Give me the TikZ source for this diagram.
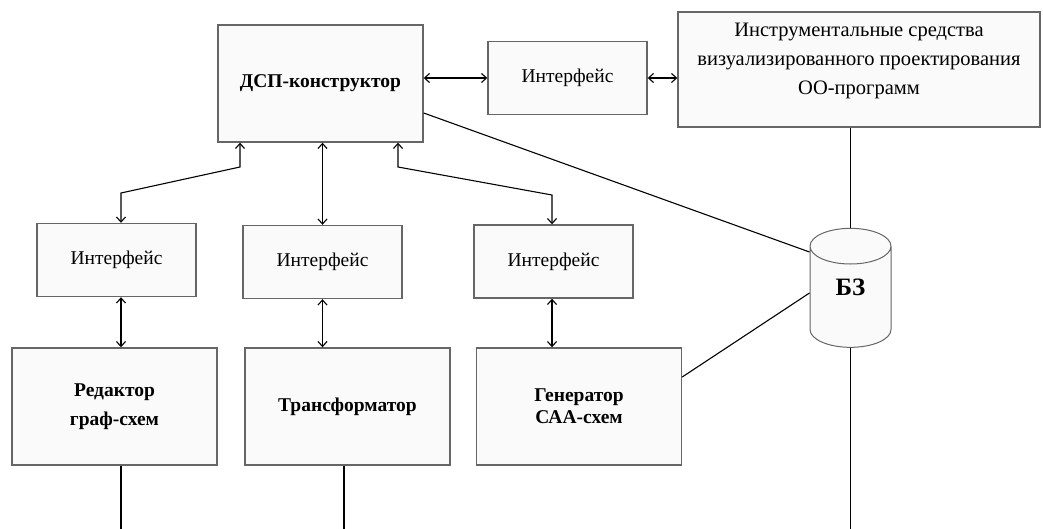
\documentclass[tikz,border=0pt]{standalone}
\usepackage{fontspec}
\setmainfont{Liberation Serif}
\usetikzlibrary{shapes.geometric,arrows.meta}

\begin{document}
\begin{tikzpicture}[x=1pt,y=-1pt,
  box/.style={draw=black!60,line width=1.4pt,fill=black!2,inner sep=0pt,align=center,font=\fontsize{19.5}{29}\selectfont},
  unit/.style={box,minimum width=205pt,minimum height=117pt,font=\fontsize{19.5}{29}\selectfont\bfseries},
  iface/.style={box,minimum width=159pt,minimum height=73pt},
  link/.style={line width=1.1pt},
  >={Straight Barb[length=5pt,width=9pt]}]
\useasboundingbox (0,0) rectangle (1043,529);

\node[unit] (dsp) at (320.5,83.5) {ДСП-конструктор};
\node[iface] (if0) at (567.5,78) {Интерфейс};
\node[box,minimum width=362pt,minimum height=115pt] (tools) at (859,69.5) {};
\node[align=center,font=\fontsize{20.5}{29}\selectfont] (toolstext) at (859,61)
  {Инструментальные средства\\визуализированного проектирования\\ОО-программ};

\node[iface] (if1) at (116.5,260) {Интерфейс};
\node[iface] (if2) at (322.5,262) {Интерфейс};
\node[iface] (if3) at (553.5,261.5) {Интерфейс};

\node[unit] (ed) at (114.5,406.5) {Редактор\\граф-схем};
\node[unit] (tr) at (347.5,406.5) {Трансформатор};
\node[unit,font=\fontsize{19.5}{22}\selectfont\bfseries] (gen) at (579,406.5) {Генератор\\САА-схем};

\node[draw=black!60,line width=1pt,fill=black!2,cylinder,shape border rotate=90,aspect=1.2,
  minimum width=81pt,minimum height=119pt,inner sep=0pt,text height=17pt,text depth=20pt,
  font=\fontsize{25}{30}\selectfont\bfseries] (bz) at (850.5,297) {БЗ};

\coordinate (b1) at (240,167);
\coordinate (c1) at (121,193);
\coordinate (b3) at (398,167);
\coordinate (c3) at (552,195);
\coordinate (e1) at (121,529);
\coordinate (e2) at (344,529);
\coordinate (e3) at (850.5,529);

\draw[link,<->] (dsp.east |- if0) -- (if0.west);
\draw[link,<->] (if0.east) -- (if0.east -| tools.west);
\draw[link,<->] (dsp.south -| b1) -- (b1) -- (c1) -- (c1 |- if1.north);
\draw[link,<->] (dsp.south -| if2) -- (if2.north);
\draw[link,<->] (dsp.south -| b3) -- (b3) -- (c3) -- (c3 |- if3.north);
\draw[link,<->] (if1.south -| c1) -- (ed.north -| c1);
\draw[link,<->] (if2.south) -- (tr.north -| if2);
\draw[link,<->] (if3.south -| c3) -- (gen.north -| c3);

\draw[link] (e1 |- ed.south) -- (e1);
\draw[link] (e2 |- tr.south) -- (e2);
\draw[link] (bz.north |- tools.south) -- (bz.north);
\draw[link] (bz.south) -- (e3);
\draw[link] (dsp.east |- 0,113) -- (bz.west |- 0,252);
\draw[link] (gen.east |- 0,377) -- (bz.west |- 0,293);
\end{tikzpicture}
\end{document}
